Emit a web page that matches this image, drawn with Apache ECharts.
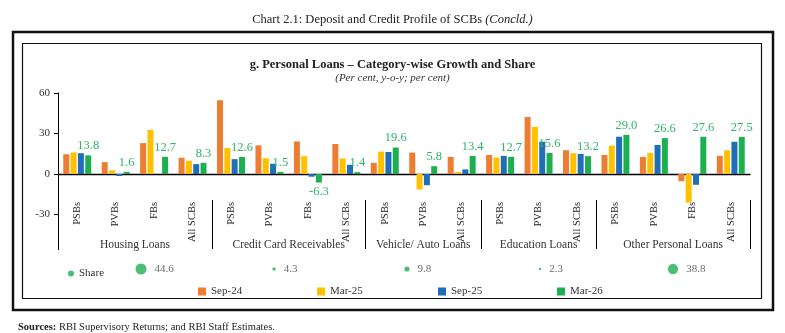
<!DOCTYPE html>
<html><head><meta charset="utf-8">
<script src="https://cdn.jsdelivr.net/npm/echarts@6/dist/echarts.min.js"></script>
<style>html,body{margin:0;padding:0;background:#fff}#c{width:785px;height:333px}</style>
</head><body><div id="c"></div>
<script>
const categories = ['PSBs','PVBs','FBs','All SCBs','PSBs','PVBs','FBs','All SCBs','PSBs','PVBs','All SCBs','PSBs','PVBs','All SCBs','PSBs','PVBs','FBs','All SCBs'];
const groups = ['Housing Loans','Credit Card Receivables','Vehicle/ Auto Loans','Education Loans','Other Personal Loans'];
const groupSizes = [4,4,3,3,4];
const sep24 = [14.6, 8.8, 22.9, 12.0, 54.6, 21.2, 24.1, 22.2, 8.3, 15.9, 12.7, 14.1, 42.2, 17.6, 14.1, 12.7, -5.4, 13.4];
const mar25 = [15.9, 2.7, 32.7, 9.8, 19.3, 11.7, 13.2, 11.5, 16.6, -11.5, 1.5, 12.2, 34.9, 15.4, 21.0, 15.6, -21.2, 17.6];
const sep25 = [15.4, -1.5, null, 7.3, 11.0, 7.6, -2.0, 6.8, 16.3, -8.3, 3.4, 13.4, 23.9, 14.9, 27.6, 21.5, -8.0, 23.9];
const mar26 = [13.8, 1.6, 12.7, 8.3, 12.6, 1.5, -6.3, 1.4, 19.6, 5.8, 13.4, 12.7, 15.6, 13.2, 29.0, 26.6, 27.6, 27.5];
const share = [44.6, 4.3, 9.8, 2.3, 38.8];
const yTicks = [-30, 0, 30, 60];

const FONT = 'Liberation Serif';
const colors = {'Sep-24':'#ED7D31','Mar-25':'#FFC000','Sep-25':'#1F6FB8','Mar-26':'#1DAF50'};

// group boundaries and centers on a 0..N value scale
const bounds = []; const centers = []; let acc = 0;
groupSizes.forEach(s => { centers.push(acc + s/2); acc += s; bounds.push(acc); });

function barSeries(name, data, withLabel) {
  return {
    type:'bar', name, xAxisIndex:0, yAxisIndex:0, barWidth:6, barGap:'22%',
    itemStyle:{color:colors[name]},
    data: data.map(v => withLabel && v != null ? {value:v, label:{position: v < 0 ? 'bottom' : 'top'}} : v),
    label: withLabel ? {show:true, color:'#2FB464', fontFamily:FONT, fontSize:12.5, distance:3,
      formatter: p => p.value.toFixed(1)} : {show:false},
    emphasis:{disabled:true}, animation:false
  };
}

const chart = echarts.init(document.getElementById('c'), null, {renderer:'canvas'});
const legendBase = {orient:'horizontal', itemWidth:8, itemHeight:8, itemGap:10, icon:'rect',
  textStyle:{fontFamily:FONT, fontSize:11, color:'#333'}, selectedMode:false};
chart.setOption({
  animation:false,
  textStyle:{fontFamily:FONT},
  title:[
    {text:'Chart 2.1: Deposit and Credit Profile of SCBs {i|(Concld.)}', left:'center', top:8,
     textStyle:{fontFamily:FONT, fontSize:12.5, fontWeight:'normal', color:'#222',
       rich:{i:{fontFamily:FONT, fontSize:12.5, fontStyle:'italic', color:'#222'}}}},
    {text:'g. Personal Loans – Category-wise Growth and Share', left:'center', top:53,
     textStyle:{fontFamily:FONT, fontSize:12.5, fontWeight:'bold', color:'#222'},
     subtext:'(Per cent, y-o-y; per cent)', itemGap:2,
     subtextStyle:{fontFamily:FONT, fontSize:11, fontStyle:'italic', color:'#333'}},
    {text:'{b|Sources:} RBI Supervisory Returns; and RBI Staff Estimates.', left:13, top:317,
     textStyle:{fontFamily:FONT, fontSize:10.5, fontWeight:'normal', color:'#222',
       rich:{b:{fontFamily:FONT, fontSize:10.5, fontWeight:'bold', color:'#222'}}}}
  ],
  graphic:[
    {type:'rect', shape:{x:13, y:32, width:760, height:278}, style:{fill:'none', stroke:'#111', lineWidth:2.5}, silent:true},
    {type:'rect', shape:{x:22.5, y:43.5, width:739, height:255}, style:{fill:'none', stroke:'#111', lineWidth:1.2}, silent:true}
  ],
  legend:[
    Object.assign({}, legendBase, {data:[{name:'Share', icon:'circle'}], left:63, top:263, itemWidth:6, itemHeight:6}),
    Object.assign({}, legendBase, {data:['Sep-24'], left:193, top:281}),
    Object.assign({}, legendBase, {data:['Mar-25'], left:312, top:281}),
    Object.assign({}, legendBase, {data:['Sep-25'], left:433, top:281}),
    Object.assign({}, legendBase, {data:['Mar-26'], left:552, top:281})
  ],
  grid:[
    {left:58, right:35, top:93, height:156.6, containLabel:false},
    {left:74.5, right:45.5, top:262, height:14, containLabel:false}
  ],
  xAxis:[
    {type:'category', gridIndex:0, data:categories, position:'bottom',
     axisLine:{show:true, onZero:true, lineStyle:{color:'#000', width:1.3}},
     axisTick:{show:false}, axisLabel:{show:false}, splitLine:{show:false}},
    {type:'category', gridIndex:0, data:categories, position:'bottom', offset:-49.6,
     axisLine:{show:false, onZero:false}, axisTick:{show:false},
     axisLabel:{show:true, rotate:90, margin:2, fontFamily:FONT, fontSize:10.5, color:'#222', interval:0}},
    {type:'value', gridIndex:0, min:0, max:categories.length, position:'bottom', offset:-49.6,
     axisLine:{show:false, onZero:false}, splitLine:{show:false},
     axisTick:{show:true, inside:false, length:49, customValues:bounds, lineStyle:{color:'#000', width:1}},
     axisLabel:{show:true, customValues:centers, margin:39, fontFamily:FONT, fontSize:11.5, color:'#333',
       formatter: v => { const i = centers.indexOf(v); return i >= 0 ? groups[i] : ''; }}},
    {type:'category', gridIndex:1, data:groups, show:false}
  ],
  yAxis:[
    {type:'value', gridIndex:0, min:-56, max:60,
     axisLine:{show:true, onZero:false, lineStyle:{color:'#000', width:1}},
     axisTick:{show:true, length:4, customValues:yTicks, lineStyle:{color:'#000'}},
     axisLabel:{customValues:yTicks, fontFamily:FONT, fontSize:11, color:'#333', margin:8},
     splitLine:{show:false}},
    {type:'value', gridIndex:1, min:-1, max:1, show:false}
  ],
  series:[
    barSeries('Sep-24', sep24, false),
    barSeries('Mar-25', mar25, false),
    barSeries('Sep-25', sep25, false),
    barSeries('Mar-26', mar26, true),
    {type:'scatter', name:'Share', xAxisIndex:3, yAxisIndex:1,
     data: share.map((v,i) => [i, 0, v]),
     symbol:'circle', symbolSize: d => Math.sqrt(d[2]) * 1.65,
     itemStyle:{color:'#1DAF50'},
     label:{show:true, position:'right', distance:8, color:'#444', fontFamily:FONT, fontSize:11,
       formatter: p => p.value[2].toFixed(1)},
     emphasis:{disabled:true}}
  ]
});
</script></body></html>
